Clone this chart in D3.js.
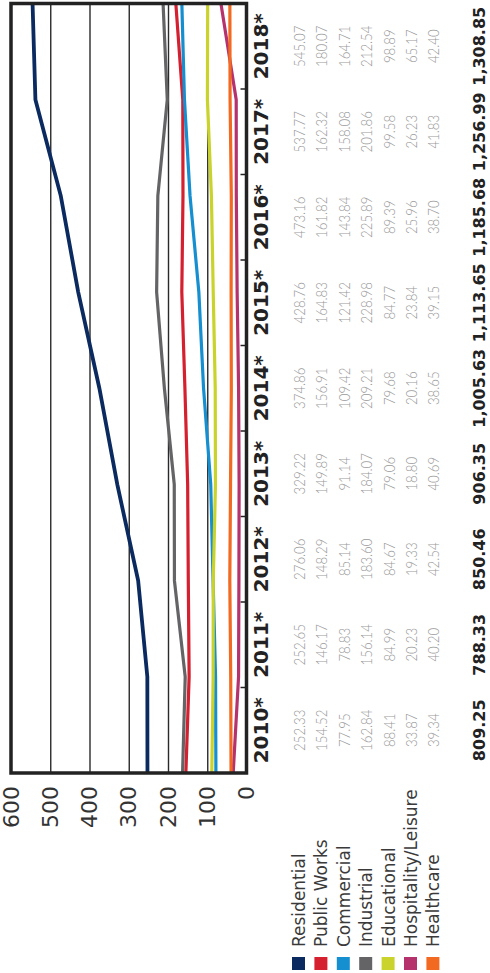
<!DOCTYPE html>
<html>
<head>
<meta charset="utf-8">
<script src="https://cdn.jsdelivr.net/npm/d3@7/dist/d3.min.js"></script>
<style>
  html, body { margin: 0; padding: 0; background: #fff; }
  svg { display: block; }
</style>
</head>
<body>
<svg id="chart" width="490" height="973"></svg>
<script>
// Construction spending by sector, 2010–2018 (* = estimate)
const years = ["2010*", "2011*", "2012*", "2013*", "2014*", "2015*", "2016*", "2017*", "2018*"];
const sectors = ["Residential", "Public Works", "Commercial", "Industrial", "Educational", "Hospitality/Leisure", "Healthcare"];
const colors = ["#0b2a5f", "#d4202f", "#168fd0", "#646466", "#c9d32c", "#b5326d", "#f26a22"];

const residential  = [252.33, 252.65, 276.06, 329.22, 374.86, 428.76, 473.16, 537.77, 545.07];
const publicWorks  = [154.52, 146.17, 148.29, 149.89, 156.91, 164.83, 161.82, 162.32, 180.07];
const commercial   = [77.95, 78.83, 85.14, 91.14, 109.42, 121.42, 143.84, 158.08, 164.71];
const industrial   = [162.84, 156.14, 183.60, 184.07, 209.21, 228.98, 225.89, 201.86, 212.54];
const educational  = [88.41, 84.99, 84.67, 79.06, 79.68, 84.77, 89.39, 99.58, 98.89];
const hospitality  = [33.87, 20.23, 19.33, 18.80, 20.16, 23.84, 25.96, 26.23, 65.17];
const healthcare   = [39.34, 40.20, 42.54, 40.69, 38.65, 39.15, 38.70, 41.83, 42.40];
const totals       = ["809.25", "788.33", "850.46", "906.35", "1,005.63", "1,113.65", "1,185.68", "1,256.99", "1,308.85"];
const yTicks       = [0, 100, 200, 300, 400, 500, 600];

const series = [residential, publicWorks, commercial, industrial, educational, hospitality, healthcare];

const W = 973;                    // layout is built landscape, then turned a quarter turn
const plotL = 200, plotR = 969.5, plotT = 11, plotB = 246.5;

const svg = d3.select("#chart");
const g = svg.append("g").attr("transform", `translate(0,${W}) rotate(-90)`);

const x = d3.scalePoint().domain(years).range([plotL, plotR]);
const col = d3.scaleBand().domain(years).range([plotL, plotR]);
const y = d3.scaleLinear().domain([0, 600]).range([plotB, plotT]);

// horizontal gridlines
g.append("g")
  .attr("transform", `translate(${plotL},0)`)
  .call(d3.axisLeft(y).tickValues([100, 200, 300, 400, 500]).tickSize(-(plotR - plotL)).tickFormat(""))
  .call(a => a.select(".domain").remove())
  .call(a => a.selectAll("line").attr("stroke", "#2a2a2a").attr("stroke-width", 1.4));

// value axis labels
g.append("g")
  .attr("transform", `translate(${plotL},0)`)
  .call(d3.axisLeft(y).tickValues(yTicks).tickSize(0).tickPadding(13).tickFormat(d3.format("d")))
  .call(a => a.select(".domain").remove())
  .call(a => a.selectAll("text")
    .attr("font-family", "DejaVu Sans, sans-serif")
    .attr("font-size", 22)
    .attr("fill", "#333"));

// column separators along the base
g.append("g").selectAll("line")
  .data(years.slice(1))
  .join("line")
  .attr("x1", d => col(d)).attr("x2", d => col(d))
  .attr("y1", plotB).attr("y2", plotB - 6)
  .attr("stroke", "#222").attr("stroke-width", 1.5);

// series lines
const line = d3.line().x((d, i) => x(years[i])).y(d => y(d));
g.append("g").selectAll("path")
  .data(series)
  .join("path")
  .attr("d", d => line(d))
  .attr("fill", "none")
  .attr("stroke", (d, i) => colors[i])
  .attr("stroke-width", (d, i) => i === 0 ? 3.8 : 3.2)
  .attr("stroke-linejoin", "miter");

// frame
g.append("rect")
  .attr("x", plotL).attr("y", plotT)
  .attr("width", plotR - plotL).attr("height", plotB - plotT)
  .attr("fill", "none").attr("stroke", "#222").attr("stroke-width", 3.5);

// year headers
g.append("g").selectAll("text")
  .data(years)
  .join("text")
  .attr("x", d => col(d) + col.bandwidth() / 2)
  .attr("y", 268)
  .attr("text-anchor", "middle")
  .attr("font-family", "DejaVu Sans, sans-serif")
  .attr("font-weight", "bold")
  .attr("font-size", 20)
  .attr("fill", "#222")
  .text(d => d);

// table of values
const rowY = i => 305 + 22.4 * i;
const fmt = d3.format(".2f");
series.forEach((vals, r) => {
  g.append("g").selectAll("text")
    .data(vals)
    .join("text")
    .attr("transform", (d, i) => `translate(${col(years[i]) + col.bandwidth() / 2},${rowY(r)}) scale(0.8,1)`)
    .attr("text-anchor", "middle")
    .attr("font-family", "Lato, sans-serif")
    .attr("font-weight", 300)
    .attr("font-size", 16.5)
    .attr("fill", "#9a9a9a")
    .text(d => fmt(d));
});

// totals row
g.append("g").selectAll("text")
  .data(totals)
  .join("text")
  .attr("x", (d, i) => col(years[i]) + col.bandwidth() / 2)
  .attr("y", 485)
  .attr("text-anchor", "middle")
  .attr("font-family", "DejaVu Sans, sans-serif")
  .attr("font-weight", "bold")
  .attr("font-size", 16)
  .attr("fill", "#222")
  .text(d => d);

// legend
const legend = g.append("g").selectAll("g")
  .data(sectors)
  .join("g")
  .attr("transform", (d, i) => `translate(0,${rowY(i)})`);
legend.append("rect")
  .attr("x", 3).attr("y", -13).attr("width", 13).attr("height", 13)
  .attr("fill", (d, i) => colors[i]);
legend.append("text")
  .attr("x", 26).attr("y", 0)
  .attr("font-family", "DejaVu Sans, sans-serif")
  .attr("font-size", 17)
  .attr("fill", "#3a3a3a")
  .text(d => d);
</script>
</body>
</html>
